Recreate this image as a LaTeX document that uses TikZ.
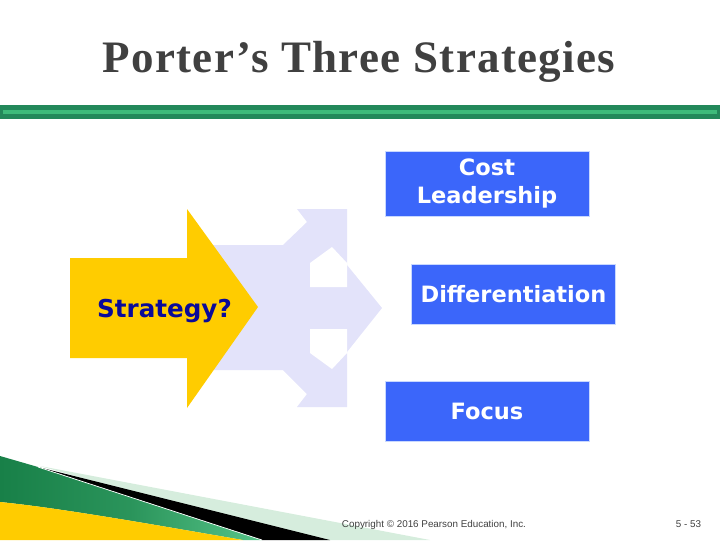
\documentclass[tikz,border=0pt]{standalone}
\usepackage{fontspec}
\setmainfont{Liberation Serif}
\newfontfamily\titlefont[LetterSpace=3]{Liberation Serif}
\newfontfamily\boxfont{DejaVu Sans}
\newfontfamily\footfont{Liberation Sans}
\usepackage{tikz}
\usetikzlibrary{positioning}
\definecolor{titlegray}{RGB}{64, 64, 64}
\definecolor{bardark}{RGB}{34, 136, 90}
\definecolor{barlight}{RGB}{61, 186, 122}
\definecolor{arrowgold}{RGB}{255, 204, 0}
\definecolor{splitlav}{RGB}{227, 227, 250}
\definecolor{stratnavy}{RGB}{10, 10, 153}
\definecolor{boxblue}{RGB}{59, 102, 250}
\definecolor{boxedge}{RGB}{200, 216, 255}
\definecolor{swmint}{RGB}{214, 237, 221}
\definecolor{swdark}{RGB}{24, 128, 72}
\definecolor{swlight}{RGB}{86, 196, 136}

\begin{document}
\begin{tikzpicture}[x=0.025cm, y=-0.025cm,
    stratbox/.style={rectangle, fill=boxblue, draw=boxedge, line width=0.6pt, minimum width=5.1cm, minimum height=1.48cm, inner sep=0pt, align=center, text=white, font=\boxfont\bfseries\fontsize{16}{20}\selectfont}
]
\useasboundingbox (0,0) rectangle (720,540);

% Title and bar
\node[anchor=base, text=titlegray, font=\titlefont\bfseries\fontsize{32}{36}\selectfont] (title) at (359,72) {Porter’s Three Strategies};
\fill[bardark] (0,105) rectangle (720,119);
\fill[barlight] (3,110) rectangle (717,114);

% Split arrow behind
\fill[splitlav] (195,245) -- (283,245) -- (307,222) -- (297,209) -- (347,209) -- (347,265)
    -- (382,308) -- (347,352) -- (347,407) -- (297,407) -- (307,394) -- (283,370) -- (195,370) -- cycle;
\fill[white] (310,287) -- (310,263) -- (332,247) -- (347,263) -- (347,287) -- cycle;
\fill[white] (310,329) -- (310,353) -- (332,369) -- (347,353) -- (347,329) -- cycle;

% Yellow arrow
\fill[arrowgold] (70,258) -- (187,258) -- (187,209) -- (258,307) -- (187,408) -- (187,358) -- (70,358) -- cycle;
\node[anchor=base, text=stratnavy, font=\boxfont\bfseries\fontsize{17.5}{20}\selectfont] (strat) at (164.5,317) {Strategy?};

% Three strategies
\node[stratbox, minimum height=1.625cm] (cost) at (487,183.5) {Cost\\Leadership};
\node[stratbox] (diff) at (513.5,294.5) {Differentiation};
\node[stratbox] (focus) at (487,411.5) {Focus};

% Swoosh
\fill[swmint] (40,466) -- (430,540) -- (300,540) -- cycle;
\fill[black] (38,467) -- (330,540) -- (262,540) -- cycle;
\shade[left color=swdark, right color=swlight, middle color=swdark!70!swlight] (0,456) -- (38,467) -- (262,540) -- (243,540) .. controls (150,524) and (60,508) .. (0,502) -- cycle;
\draw[white, line width=0.5pt] (38,467) -- (262,540);
\fill[arrowgold] (0,502) .. controls (60,508) and (150,524) .. (243,540) -- (0,540) -- cycle;

% Footer
\node[anchor=base west, text=titlegray, font=\footfont\fontsize{7}{8}\selectfont] (copy) at (337,527) {Copyright © 2016 Pearson Education, Inc.};
\node[anchor=base east, text=titlegray, font=\footfont\fontsize{7}{8}\selectfont] (page) at (706,527) {5 - 53};
\end{tikzpicture}
\end{document}
